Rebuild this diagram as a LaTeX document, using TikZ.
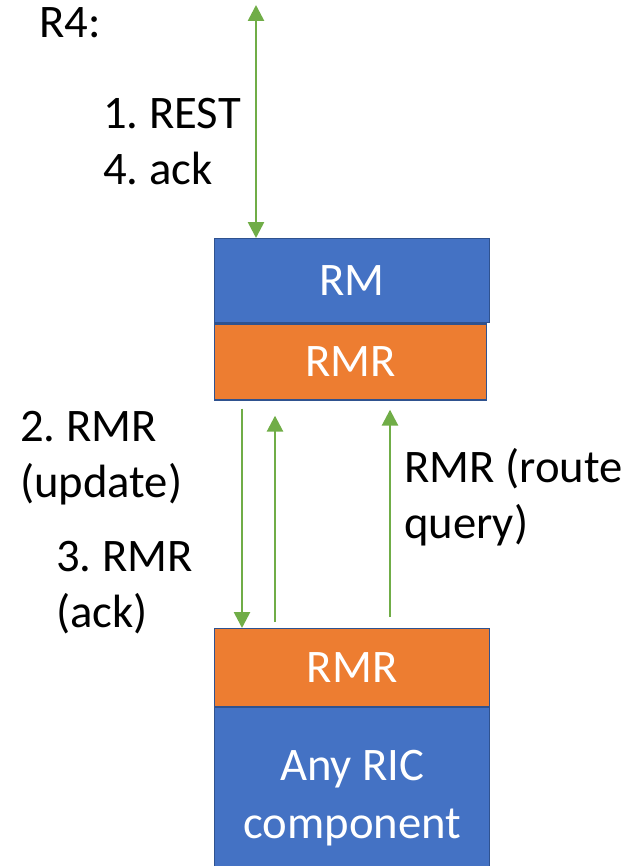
\documentclass[tikz,border=0pt]{standalone}
\usepackage{fontspec}
\setmainfont{Carlito}
\frenchspacing
\usetikzlibrary{calc,arrows.meta}
\definecolor{rmblue}{HTML}{4472C4}
\definecolor{rmorange}{HTML}{ED7D31}
\definecolor{rmgreen}{HTML}{70AD47}
\definecolor{rmedge}{HTML}{2F528F}
\tikzset{
	layer/.style={draw=rmedge, line width=1pt, text=white, inner sep=0pt, anchor=north west, align=center},
	flow/.style={draw=rmgreen, line width=2pt},
	lbl/.style={anchor=base west, inner sep=0pt, align=left},
	>={Triangle[width=12pt,length=12pt]}
}

\begin{document}
\begin{tikzpicture}[x=0.75pt, y=-0.75pt, font=\fontsize{35}{42}\selectfont]
		%%%%% START %%%%%
		\useasboundingbox (0, 0) rectangle (632, 866);
		
		\node[layer, fill=rmblue, minimum width=206.25pt, minimum height=63pt] (rm) at (214, 238) {RM};
		\node[layer, fill=rmorange, minimum width=204pt, minimum height=57pt] (rmrtop) at (rm.south west) {RMR};
		
		\node[layer, fill=rmorange, minimum width=206.25pt, minimum height=58.5pt] (rmrbot) at (214, 628) {RMR};
		\node[layer, fill=rmblue, minimum width=206.25pt, minimum height=135pt, font=\fontsize{35}{43.5}\selectfont] (ric) at (214, 707) {Any RIC\\component};
		
		\coordinate (r4end) at (256, 5);
		\draw[flow, <->] (r4end) -- ($(rm.north west)+(42,0)$);
		
		\draw[flow, ->] ($(rmrtop.south west)+(28,8)$) -- ($(rmrbot.north west)+(28,0)$);
		\draw[flow, ->] ($(rmrbot.north west)+(61,-6)$) -- ($(rmrtop.south west)+(61,15)$);
		\draw[flow, ->] ($(rmrbot.north west)+(176,-11)$) -- ($(rmrtop.south west)+(176,9)$);
		
		% two-line labels sit on the baseline of their last line
		\node[lbl] (r4) at (39, 38) {R4:};
		\node[lbl] (rest) at (103, 185) {1. REST\\4. ack};
		\node[lbl] (update) at (20, 497) {2. RMR\\(update)};
		\node[lbl] (ack) at (56, 627) {3. RMR\\(ack)};
		\node[lbl] (route) at (404, 538) {RMR (route\\query)};
		%%%%% END %%%%%
\end{tikzpicture}
\end{document}
